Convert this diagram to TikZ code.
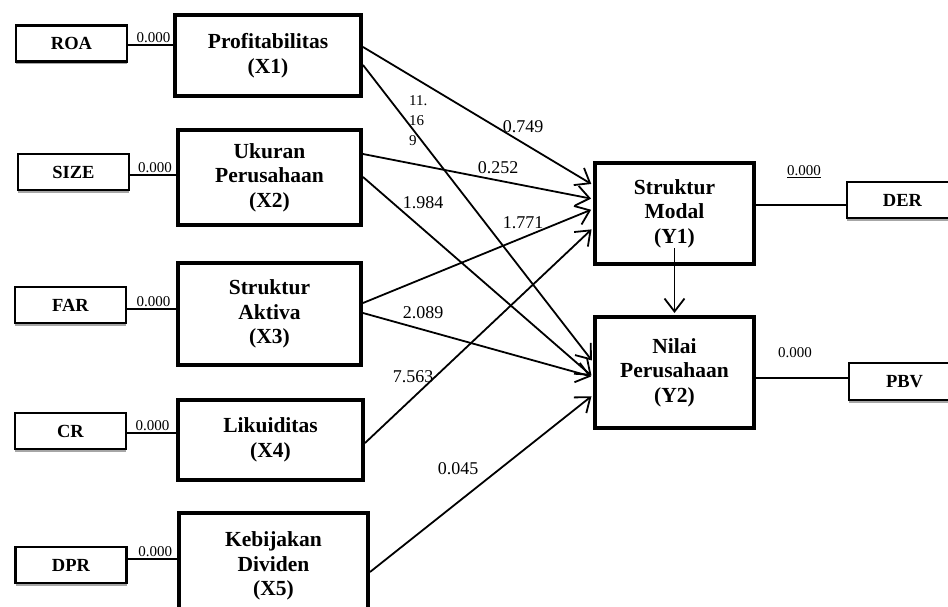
\documentclass[tikz,border=0pt]{standalone}
\usepackage{fontspec}
\setmainfont{Liberation Serif}
\usetikzlibrary{arrows.meta,shadows}

\tikzset{
  varbox/.style={draw, line width=4pt, fill=white, align=center, inner sep=0pt,
    font=\fontsize{21.5}{24.5}\selectfont\bfseries},
  indbox/.style={draw, line width=2.2pt, fill=white, minimum width=111pt, minimum height=36pt,
    inner sep=0pt, font=\fontsize{18.5}{20}\selectfont\bfseries,
    drop shadow={shadow xshift=0pt, shadow yshift=-3pt, fill=black!35, opacity=1}},
  link/.style={line width=1.8pt, -{Straight Barb[length=13pt,width=20pt]}, shorten >=2pt},
  coef/.style={font=\fontsize{18}{20}\selectfont, inner sep=0pt},
  load/.style={font=\fontsize{15}{17}\selectfont, inner sep=1.5pt},
}

\begin{document}
\begin{tikzpicture}[x=1pt,y=-1pt]
\useasboundingbox (0,0) rectangle (948,607);

% constructs
\node[varbox, minimum width=186pt, minimum height=81pt] (x1) at (268,55.5) {Profitabilitas\\(X1)};
\node[varbox, minimum width=183pt, minimum height=95pt] (x2) at (269.5,177.5) {Ukuran\\Perusahaan\\(X2)};
\node[varbox, minimum width=183pt, minimum height=102pt] (x3) at (269.5,314) {Struktur\\Aktiva\\(X3)};
\node[varbox, minimum width=185pt, minimum height=80pt] (x4) at (270.5,440) {Likuiditas\\(X4)};
\node[varbox, minimum width=189pt, minimum height=106pt] (x5) at (273.5,566) {Kebijakan\\Dividen\\(X5)};
\node[varbox, minimum width=159pt, minimum height=101pt] (y1) at (674.5,213.5) {Struktur\\Modal\\(Y1)};
\node[varbox, minimum width=159pt, minimum height=111pt] (y2) at (674.5,372.5) {Nilai\\Perusahaan\\(Y2)};

% indicators
\node[indbox] (roa) at (71.5,43.5) {ROA};
\node[indbox] (size) at (73.5,172) {SIZE};
\node[indbox] (far) at (70.5,305) {FAR};
\node[indbox] (cr) at (70.5,431) {CR};
\node[indbox] (dpr) at (71,565) {DPR};
\node[indbox] (der) at (902.5,200) {DER};
\node[indbox, minimum height=37pt] (pbv) at (904.5,381.5) {PBV};

% indicator lines
\draw[line width=1.6pt] (roa.east |- 0,45) -- (x1.west |- 0,45) node[load, midway, above, xshift=3pt] (lroa) {0.000};
\draw[line width=1.6pt] (size.east |- 0,175) -- (x2.west |- 0,175) node[load, midway, above, xshift=2pt] (lsize) {0.000};
\draw[line width=1.6pt] (far.east |- 0,309) -- (x3.west |- 0,309) node[load, midway, above, xshift=2pt] (lfar) {0.000};
\draw[line width=1.6pt] (cr.east |- 0,433) -- (x4.west |- 0,433) node[load, midway, above, xshift=1pt] (lcr) {0.000};
\draw[line width=1.6pt] (dpr.east |- 0,559) -- (x5.west |- 0,559) node[load, midway, above, xshift=3pt] (ldpr) {0.000};
\draw[line width=1.6pt] (y1.east |- 0,205) -- (der.west |- 0,205);
\draw[line width=1.6pt] (y2.east |- 0,378) -- (pbv.west |- 0,378);
\node[load] (lder) at (804,172) {\underline{0.000}};
\node[load] (lpbv) at (795,353) {0.000};

% paths
\draw[link] (x1.east |- 0,47) -- (y1.west |- 0,185);
\draw[link] (x1.east |- 0,65) -- (y2.west |- 0,362);
\draw[link] (x2.east |- 0,154) -- (y1.west |- 0,199);
\draw[link] (x2.east |- 0,177) -- (y2.west |- 0,377);
\draw[link] (x3.east |- 0,303) -- (y1.west |- 0,209);
\draw[link] (x3.east |- 0,313) -- (y2.west |- 0,377);
\draw[link] (x4.east |- 0,443) -- (y1.west |- 0,228);
\draw[link] (x5.east |- 0,572) -- (y2.west |- 0,395);
\draw[link] (y1.south |- 0,248) -- (y2.north);

% coefficients
\node[coef] (c1) at (523,127) {0.749};
\node[coef] (c2) at (498,168) {0.252};
\node[coef] (c3) at (423,203) {1.984};
\node[coef] (c4) at (523,223) {1.771};
\node[coef] (c5) at (423,313) {2.089};
\node[coef] (c6) at (413,377) {7.563};
\node[coef] (c7) at (458,469) {0.045};
\node[load, anchor=west, align=left, inner sep=0pt, font=\fontsize{15}{20}\selectfont] (c8) at (409,121) {11.\\16\\9};
\end{tikzpicture}
\end{document}
